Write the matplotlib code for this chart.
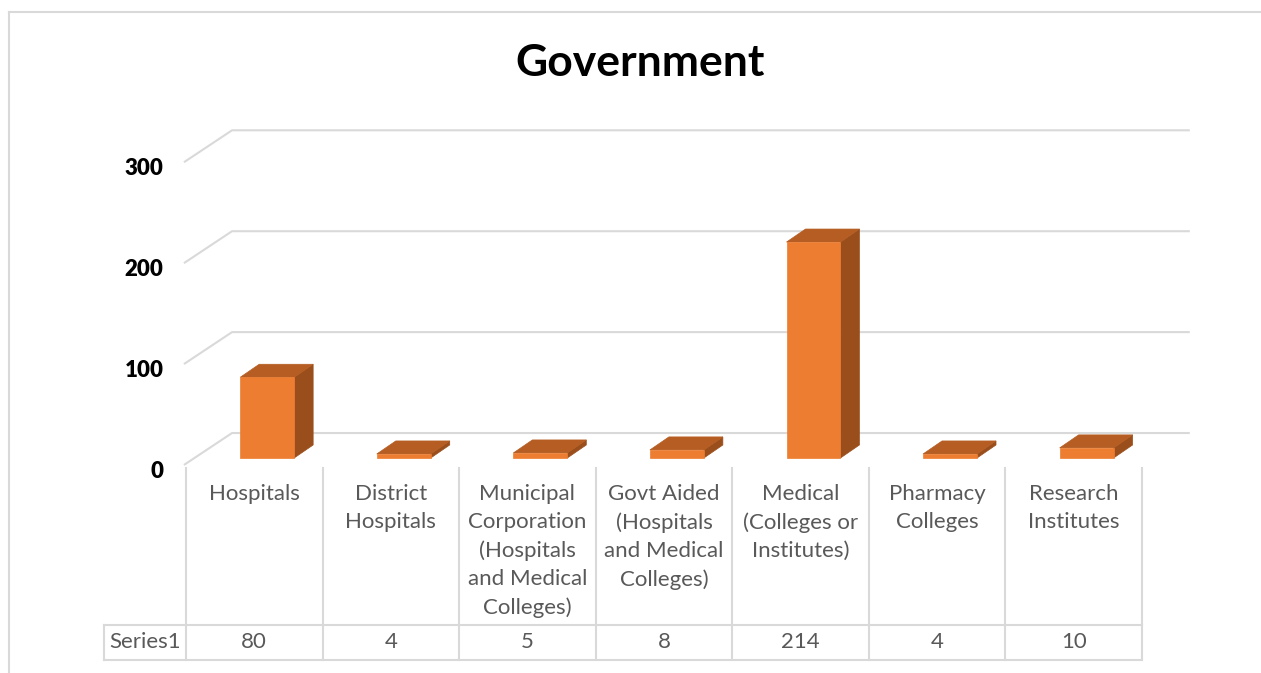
import matplotlib.pyplot as plt
from matplotlib.patches import Polygon, Rectangle
from matplotlib.lines import Line2D

# chart data
categories = [
    "Hospitals",
    "District\nHospitals",
    "Municipal\nCorporation\n(Hospitals\nand Medical\nColleges)",
    "Govt Aided\n(Hospitals\nand Medical\nColleges)",
    "Medical\n(Colleges or\nInstitutes)",
    "Pharmacy\nColleges",
    "Research\nInstitutes",
]
values = [80, 4, 5, 8, 214, 4, 10]
series_name = "Series1"
y_ticks = [0, 100, 200, 300]

FRONT = "#ED7D31"
TOP = "#B55D22"
SIDE = "#9A4E1C"
GRID = "#D9D9D9"
TEXT = "#595959"

plt.rcParams["font.family"] = ["Lato", "DejaVu Sans"]

W, H = 1261, 673
fig = plt.figure(figsize=(W / 100, H / 100), dpi=100)
ax = fig.add_axes([186 / W, (H - 458) / H, (1142 - 186) / W, 333 / H])
ax.set_xlim(-0.5, len(values) - 0.5)
ax.set_ylim(0, 330)
ax.axis("off")

# 3D look: depth offsets of the floor/walls and of each bar (data units)
wall_x0, wall_x1, wall_right = -0.515, -0.163, 6.85
wall_y0, wall_y1 = -6.9, 24.75
bar_off, bar_w = -0.103, 0.395
bar_dx, bar_dy = 0.139, 12.9

for v in y_ticks:
    ax.plot([wall_x0, wall_x1, wall_right], [v + wall_y0, v + wall_y1, v + wall_y1],
            color=GRID, lw=1.5, clip_on=False, zorder=1, solid_capstyle="butt")
    ax.text(-0.665, v - 13, str(v), ha="right", va="center",
            fontsize=16, fontweight="heavy", color="black", clip_on=False)

for i, v in enumerate(values):
    x0 = i + bar_off
    x1 = x0 + bar_w
    front = Rectangle((x0, 0), bar_w, v, facecolor=FRONT, edgecolor=FRONT, lw=0.5, zorder=3)
    top = Polygon([(x0, v), (x1, v), (x1 + bar_dx, v + bar_dy), (x0 + bar_dx, v + bar_dy)],
                  closed=True, facecolor=TOP, edgecolor=TOP, lw=0.5, zorder=3)
    side = Polygon([(x1, 0), (x1 + bar_dx, bar_dy), (x1 + bar_dx, v + bar_dy), (x1, v)],
                   closed=True, facecolor=SIDE, edgecolor=SIDE, lw=0.5, zorder=3)
    for p in (side, top, front):
        p.set_clip_on(False)
        ax.add_patch(p)

# data table under the plot
t_top, t_mid, t_bot = -9.9, -165.0, -200.0
n = len(values)
for k in range(n + 1):
    ax.plot([k - 0.5, k - 0.5], [t_top, t_bot], color=GRID, lw=1.5, clip_on=False)
left_edge = -1.1
ax.plot([left_edge, n - 0.5], [t_mid, t_mid], color=GRID, lw=1.5, clip_on=False)
ax.plot([left_edge, n - 0.5], [t_bot, t_bot], color=GRID, lw=1.5, clip_on=False)
ax.plot([left_edge, left_edge], [t_mid, t_bot], color=GRID, lw=1.5, clip_on=False)

for i, (c, v) in enumerate(zip(categories, values)):
    ax.text(i, -25.5, c, ha="center", va="top", fontsize=16, color=TEXT,
            linespacing=1.51, clip_on=False)
    ax.text(i, (t_mid + t_bot) / 2, str(v), ha="center", va="center",
            fontsize=16, color=TEXT, clip_on=False)
ax.text((left_edge - 0.5) / 2, (t_mid + t_bot) / 2, series_name, ha="center",
        va="center", fontsize=16, color=TEXT, clip_on=False)

fig.text(640 / W, 1 - 63 / H, "Government", ha="center", va="center",
         fontsize=32, fontweight="bold", color="black")

# chart area border
fig.add_artist(Line2D([8.5 / W, 8.5 / W], [0, 1 - 12 / H], color=GRID, lw=1.5))
fig.add_artist(Line2D([8.5 / W, 1], [1 - 12 / H, 1 - 12 / H], color=GRID, lw=1.5))

fig.savefig("out.png", dpi=100, facecolor="white")
